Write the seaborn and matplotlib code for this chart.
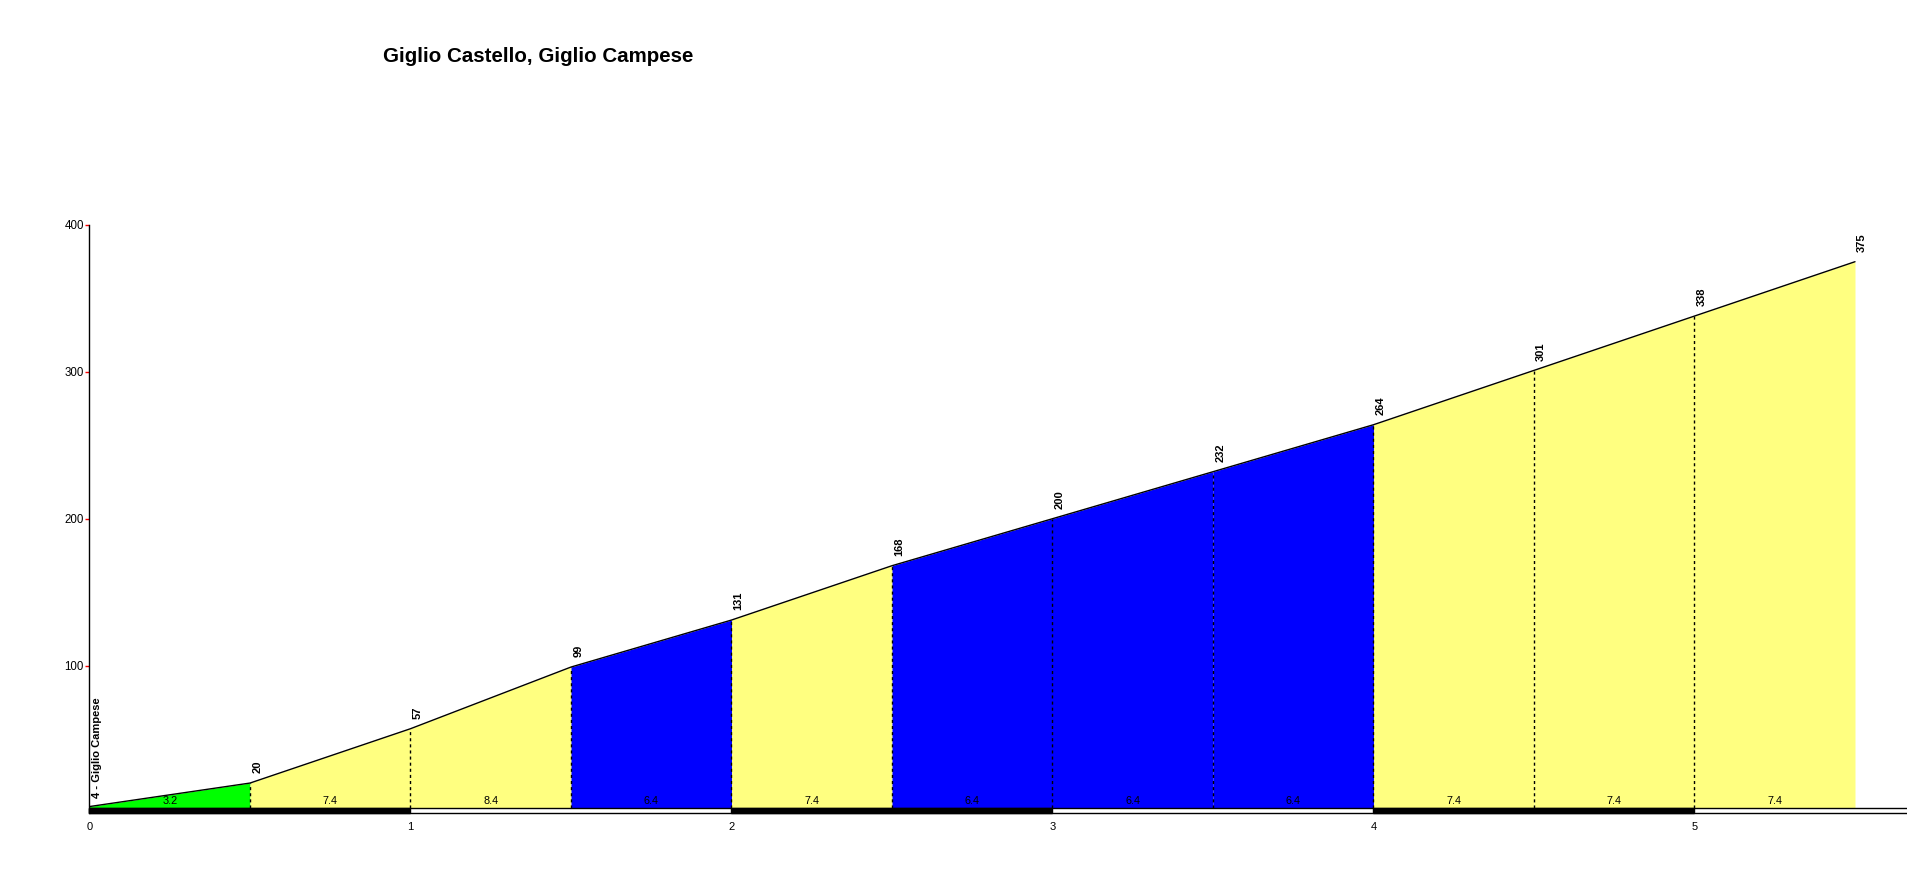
import matplotlib
matplotlib.use("Agg")
import matplotlib.pyplot as plt
import seaborn as sns
import pandas as pd
from matplotlib.patches import Rectangle

# ---------------- data ----------------
title = "Giglio Castello, Giglio Campese"
start_label = "4 - Giglio Campese"
dist_km = [0.0, 0.5, 1.0, 1.5, 2.0, 2.5, 3.0, 3.5, 4.0, 4.5, 5.0, 5.5]
elev_m = [4, 20, 57, 99, 131, 168, 200, 232, 264, 301, 338, 375]
grade_pct = [3.2, 7.4, 8.4, 6.4, 7.4, 6.4, 6.4, 6.4, 7.4, 7.4, 7.4]
grade_class = ["low", "mid", "mid", "blue", "mid", "blue", "blue", "blue", "mid", "mid", "mid"]
x_ticks = [0, 1, 2, 3, 4, 5]
y_ticks = [100, 200, 300, 400]

# ---------------- style ----------------
palette = {"low": "#00FF00", "mid": "#FFFF80", "blue": "#0000FF"}
FONT = ["Liberation Sans", "DejaVu Sans"]

sns.set_theme(style="white")
plt.rcParams["font.family"] = FONT

fig = plt.figure(figsize=(19.08, 8.73), dpi=100)
ax = fig.add_axes([89.5 / 1908, 0.06838, 1 - 89.5 / 1908, 0.67389])
x_max = (1908 - 89.5) / 321.0
ax.set_xlim(0, x_max)
ax.set_ylim(-0.6, 400)

df = pd.DataFrame({"km": dist_km, "m": elev_m})

# coloured segments
for i in range(len(grade_pct)):
    ax.fill_between(dist_km[i:i + 2], 0, elev_m[i:i + 2],
                    color=palette[grade_class[i]], lw=0, zorder=1)

# dashed separators
for xk, ym in zip(dist_km[1:-1], elev_m[1:-1]):
    ax.plot([xk, xk], [3.0, ym], color="black", lw=1.0,
            linestyle=(0, (2.2, 2.2)), zorder=2)

# profile line
sns.lineplot(data=df, x="km", y="m", color="black", lw=1.0, ax=ax, zorder=3)

# distance bar
bar_lo, bar_hi = -0.4, 3.0
ax.add_patch(Rectangle((0, bar_lo), x_max + 0.05, bar_hi - bar_lo, facecolor="white",
                       edgecolor="black", lw=1.0, zorder=4, clip_on=False))
for k in range(0, 6, 2):
    ax.add_patch(Rectangle((k, bar_lo), 1, bar_hi - bar_lo, facecolor="black",
                           edgecolor="black", lw=1.0, zorder=5, clip_on=False))

# gradient labels
for i, g in enumerate(grade_pct):
    mid = (dist_km[i] + dist_km[i + 1]) / 2
    ax.annotate(f"{g:.1f}", xy=(mid, bar_hi), xytext=(0, 1.2), textcoords="offset points",
                ha="center", va="bottom", fontsize=7.8, color="black", zorder=6)

# elevation labels
for xk, ym in zip(dist_km[1:], elev_m[1:]):
    ax.annotate(str(ym), xy=(xk, ym), xytext=(1.6, 7), textcoords="offset points",
                rotation=90, ha="left", va="bottom", fontsize=8, fontweight="bold",
                color="black", zorder=6, annotation_clip=False)

ax.annotate(start_label, xy=(0, elev_m[0]), xytext=(1.8, 6.5), textcoords="offset points",
            rotation=90, ha="left", va="bottom", fontsize=8, fontweight="bold",
            color="black", zorder=6)

# axes styling
for s in ["top", "right", "bottom"]:
    ax.spines[s].set_visible(False)
ax.spines["left"].set_color("black")
ax.spines["left"].set_linewidth(1.0)
ax.spines["left"].set_zorder(7)
ax.set_xticks(x_ticks)
ax.set_xticklabels([str(t) for t in x_ticks])
ax.set_yticks(y_ticks)
ax.set_yticklabels([str(t) for t in y_ticks])
ax.tick_params(axis="x", length=0, pad=6.5, labelsize=8, colors="black")
ax.tick_params(axis="y", length=3, width=1, color="red", pad=1, labelsize=8.3,
               labelcolor="black", left=True)
ax.set_xlabel("")
ax.set_ylabel("")
ax.grid(False)

fig.text(538 / 1908, 1 - 56 / 873, title, ha="center", va="center",
         fontsize=14.8, fontweight="bold", color="black")

fig.savefig("out.png", dpi=100)
